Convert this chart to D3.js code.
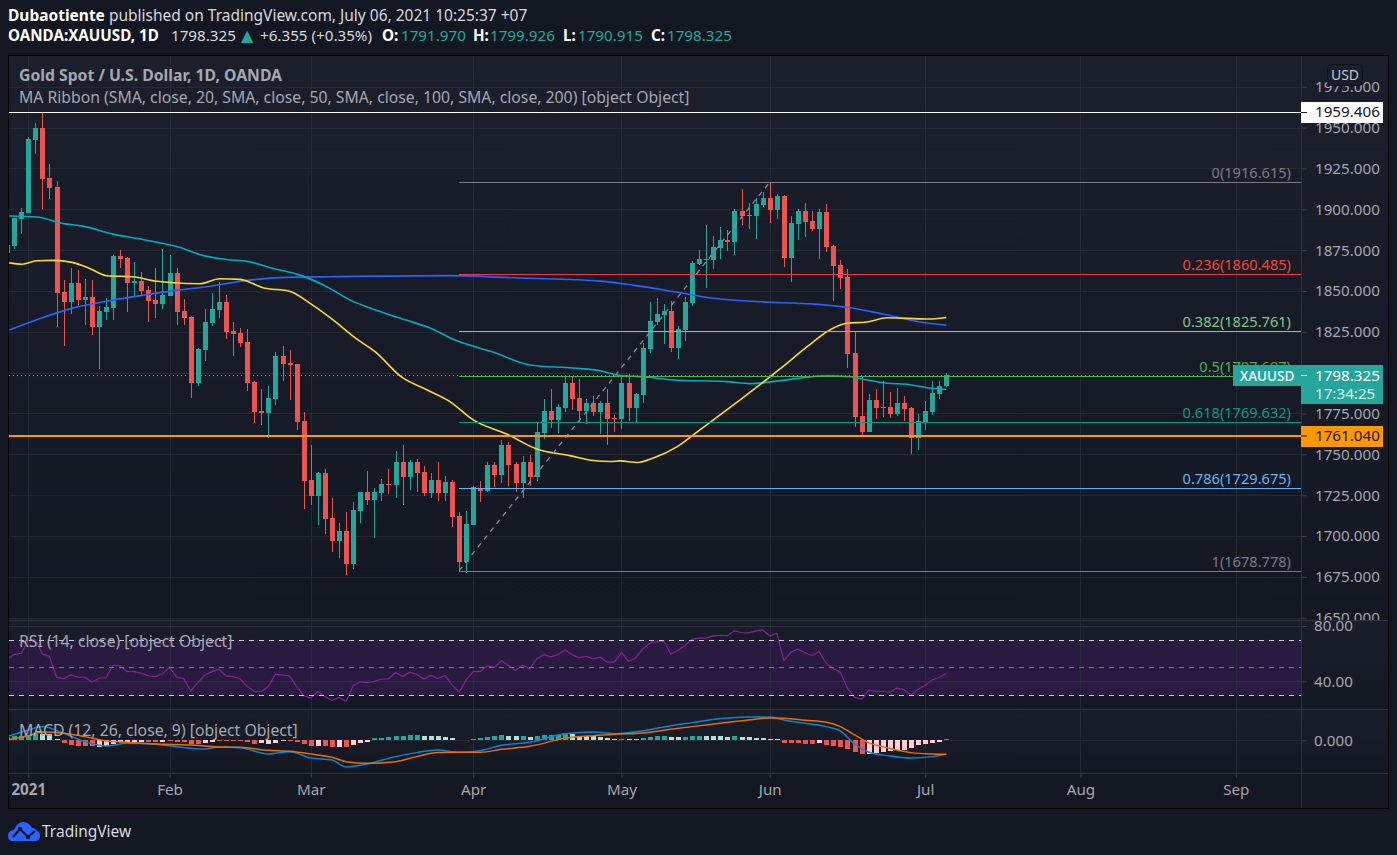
<!DOCTYPE html>
<html>
<head>
<meta charset="utf-8">
<script src="https://d3js.org/d3.v7.min.js"></script>
<style>
  html, body { margin: 0; padding: 0; background: #131722; overflow: hidden; }
  svg { display: block; }
  text { font-family: "Noto Sans", "Open Sans", sans-serif; }
</style>
</head>
<body>
<svg id="chart" width="1397" height="855"></svg>
<script>
// first candle is three sessions before the 2021 tick
const firstIndex = -3;

// daily gold candles, ten to a row
const opens = [
  1873.2, 1877.5, 1893.9, 1897.6, 1942.2, 1949.6, 1919.0, 1913.5, 1849.3, 1843.2,
  1854.8, 1844.4, 1846.3, 1827.9, 1837.1, 1839.5, 1871.3, 1870.1, 1854.8, 1856.1,
  1850.5, 1844.4, 1842.0, 1846.9, 1860.9, 1837.7, 1834.0, 1793.7, 1813.9, 1830.4,
  1838.3, 1843.2, 1825.5, 1824.3, 1818.8, 1794.3, 1776.6, 1775.3, 1783.9, 1810.2,
  1805.9, 1805.3, 1770.5, 1734.4, 1724.6, 1738.7, 1711.2, 1697.1, 1703.2, 1683.0,
  1715.4, 1727.1, 1722.2, 1726.5, 1732.0, 1731.3, 1745.4, 1736.2, 1745.4, 1739.3,
  1726.5, 1734.4, 1726.5, 1733.2, 1712.4, 1684.3, 1706.9, 1729.5, 1727.7, 1743.6,
  1737.4, 1755.8, 1744.2, 1732.6, 1745.4, 1736.2, 1763.1, 1776.6, 1771.1, 1778.4,
  1793.7, 1784.5, 1776.6, 1781.5, 1776.0, 1781.5, 1772.3, 1771.7, 1793.7, 1778.4,
  1786.4, 1814.5, 1831.0, 1835.3, 1837.7, 1815.1, 1826.1, 1842.6, 1866.4, 1868.9,
  1868.9, 1876.2, 1881.1, 1879.9, 1898.8, 1896.4, 1895.8, 1902.5, 1906.8, 1899.4,
  1908.0, 1870.1, 1890.9, 1898.8, 1892.7, 1887.8, 1898.2, 1877.5, 1865.8, 1858.5,
  1812.0, 1773.5, 1763.7, 1783.3, 1778.4, 1779.0, 1774.7, 1781.5, 1778.4, 1760.1,
  1769.8, 1776.0, 1787.0, 1791.97
];
const highs = [
  1878.1, 1894.6, 1900.7, 1944.1, 1952.6, 1958.7, 1927.6, 1917.2, 1856.7, 1864.0,
  1862.8, 1857.3, 1856.7, 1840.8, 1845.6, 1871.9, 1875.0, 1870.7, 1867.7, 1861.6,
  1853.0, 1864.0, 1875.6, 1871.9, 1864.0, 1845.0, 1834.6, 1815.1, 1838.9, 1848.7,
  1855.4, 1847.5, 1831.0, 1827.3, 1826.7, 1794.9, 1790.0, 1791.9, 1812.6, 1816.3,
  1813.9, 1805.3, 1776.0, 1755.8, 1739.3, 1741.1, 1723.4, 1708.1, 1714.8, 1720.9,
  1727.1, 1739.9, 1729.5, 1735.0, 1741.1, 1752.1, 1755.8, 1746.6, 1747.2, 1742.9,
  1738.7, 1745.4, 1736.8, 1734.4, 1714.8, 1715.4, 1730.7, 1733.8, 1745.4, 1745.4,
  1758.8, 1757.6, 1745.4, 1749.1, 1749.7, 1769.8, 1783.9, 1790.0, 1780.8, 1798.0,
  1798.0, 1796.1, 1783.9, 1785.7, 1782.7, 1790.0, 1774.1, 1798.6, 1799.2, 1787.6,
  1818.1, 1843.2, 1845.6, 1842.0, 1843.8, 1828.5, 1846.3, 1868.3, 1875.0, 1890.3,
  1883.5, 1889.0, 1887.2, 1900.0, 1912.3, 1903.7, 1906.8, 1910.5, 1916.0, 1909.2,
  1908.6, 1895.8, 1900.0, 1903.7, 1898.8, 1900.0, 1903.1, 1878.1, 1868.9, 1863.4,
  1824.9, 1797.4, 1787.0, 1790.0, 1794.9, 1788.2, 1790.6, 1785.7, 1779.0, 1774.7,
  1782.7, 1794.9, 1794.9, 1799.926
];
const lows = [
  1873.2, 1875.6, 1884.8, 1897.6, 1933.7, 1900.0, 1906.2, 1827.9, 1816.3, 1835.9,
  1841.4, 1829.1, 1823.0, 1802.2, 1832.2, 1832.2, 1864.0, 1837.1, 1846.9, 1847.5,
  1831.0, 1833.4, 1838.9, 1846.9, 1829.1, 1829.1, 1784.5, 1791.9, 1807.1, 1828.5,
  1833.4, 1820.6, 1810.2, 1815.7, 1788.8, 1769.2, 1768.0, 1760.1, 1780.2, 1794.9,
  1783.3, 1765.0, 1716.7, 1719.1, 1706.9, 1701.4, 1690.4, 1686.7, 1676.3, 1680.0,
  1708.1, 1719.1, 1698.9, 1721.6, 1725.8, 1723.4, 1719.1, 1728.3, 1727.1, 1724.6,
  1723.4, 1721.6, 1721.6, 1705.7, 1678.8, 1677.5, 1706.9, 1720.9, 1727.1, 1730.1,
  1732.6, 1730.7, 1727.1, 1723.4, 1730.7, 1733.8, 1759.5, 1766.2, 1763.1, 1776.0,
  1777.2, 1769.8, 1768.6, 1773.5, 1762.5, 1755.8, 1763.7, 1765.6, 1770.5, 1769.8,
  1781.5, 1812.0, 1829.1, 1817.5, 1812.6, 1808.4, 1819.4, 1840.8, 1866.0, 1851.8,
  1863.4, 1869.5, 1874.4, 1871.9, 1890.3, 1887.8, 1881.7, 1901.3, 1891.5, 1893.9,
  1864.6, 1855.4, 1881.1, 1882.9, 1886.6, 1869.5, 1873.8, 1843.8, 1851.2, 1802.9,
  1766.8, 1761.9, 1763.7, 1771.7, 1772.9, 1772.3, 1773.5, 1770.5, 1750.3, 1752.7,
  1765.0, 1774.1, 1783.9, 1790.915
];
const closes = [
  1878.1, 1894.6, 1898.2, 1942.8, 1949.6, 1918.4, 1912.9, 1848.7, 1843.2, 1854.8,
  1844.4, 1846.3, 1827.9, 1837.7, 1840.2, 1871.3, 1869.5, 1854.8, 1856.1, 1849.9,
  1843.8, 1842.0, 1847.5, 1860.9, 1837.1, 1833.4, 1793.7, 1814.5, 1831.0, 1838.9,
  1843.2, 1824.9, 1823.6, 1818.1, 1793.7, 1775.9, 1775.3, 1784.5, 1810.2, 1805.3,
  1804.7, 1769.8, 1733.8, 1724.6, 1738.7, 1710.6, 1697.1, 1703.2, 1683.0, 1716.1,
  1727.1, 1722.2, 1727.1, 1732.0, 1731.3, 1745.4, 1736.2, 1745.4, 1738.7, 1726.5,
  1734.4, 1726.5, 1733.2, 1711.8, 1684.3, 1707.5, 1730.1, 1727.7, 1743.6, 1737.4,
  1755.8, 1743.6, 1732.6, 1745.4, 1736.2, 1763.7, 1776.6, 1771.1, 1779.0, 1793.7,
  1783.9, 1776.6, 1781.5, 1776.0, 1781.5, 1771.7, 1771.7, 1793.7, 1778.4, 1787.0,
  1815.1, 1831.6, 1835.9, 1837.7, 1815.1, 1826.7, 1843.2, 1867.0, 1869.5, 1869.5,
  1876.8, 1881.1, 1879.9, 1898.8, 1895.8, 1895.8, 1903.1, 1906.8, 1899.4, 1908.0,
  1870.1, 1891.5, 1898.8, 1892.1, 1887.8, 1898.2, 1876.8, 1865.2, 1857.9, 1811.4,
  1772.9, 1763.7, 1783.3, 1778.4, 1779.0, 1774.7, 1781.5, 1777.8, 1760.1, 1770.5,
  1776.6, 1787.6, 1791.9, 1798.325
];

// moving averages read at the turning points of each curve
const cyanAt = [-2.7, 1.2, 4.9, 7.7, 12, 16.2, 21.5, 24.7, 28.1, 31, 34.7, 38.5, 42.7, 45.6, 48.4, 52.6, 56.9, 60.4, 61.6, 65.8, 71, 77.1, 81, 83.4, 88, 91.3, 98.9, 102.2, 106.5, 110.3, 113.1, 116.4, 118.2, 121.6, 124.4, 127.3, 130];
const cyanMa = [1895.9, 1895.3, 1891.3, 1889.7, 1884.8, 1881.5, 1876.6, 1871.8, 1869.3, 1868.1, 1863.8, 1859.7, 1851.6, 1844.4, 1839.5, 1833.4, 1827.3, 1820.0, 1818.1, 1812.6, 1804.7, 1802.8, 1801.2, 1798.6, 1797.2, 1795.5, 1794.5, 1793.3, 1795.1, 1797.2, 1798.0, 1797.5, 1796.0, 1793.5, 1792.9, 1790.8, 1789.8];
const yellowAt = [-2.7, -0.9, 1.2, 3.5, 6.2, 8.7, 11.1, 14.8, 18.2, 20.5, 24.3, 27.1, 30, 33.2, 37.1, 39.9, 42.7, 46.7, 49.1, 52.9, 56.5, 59.7, 63, 67.8, 72, 76.7, 80, 82.4, 83.8, 86.3, 88.5, 91.9, 95.1, 100.8, 106.4, 110.3, 113.5, 115.9, 118.8, 121.6, 127.3, 130];
const yellowMa = [1867.2, 1866.4, 1868.5, 1868.7, 1867.5, 1863.8, 1859.3, 1858.7, 1855.9, 1855.0, 1854.4, 1857.5, 1857.1, 1852.0, 1849.7, 1842.4, 1833.8, 1820.0, 1812.8, 1797.2, 1789.4, 1782.3, 1771.1, 1762.3, 1753.3, 1749.2, 1746.2, 1745.6, 1746.0, 1745.0, 1747.7, 1754.7, 1765.0, 1783.3, 1802.1, 1815.9, 1826.1, 1830.2, 1831.0, 1833.6, 1832.8, 1833.8];
const blueAt = [-2.7, 1.7, 6.3, 12, 16.8, 21.1, 25.3, 31, 36.6, 42.7, 59.7, 69.6, 81, 85.6, 92.3, 97, 103.6, 111.1, 115.9, 121, 126.3, 130];
const blueMa = [1826.1, 1833.2, 1839.5, 1844.4, 1847.7, 1850.5, 1852.6, 1856.5, 1858.3, 1858.7, 1859.4, 1857.9, 1856.0, 1853.6, 1848.9, 1845.5, 1843.4, 1842.0, 1840.0, 1835.9, 1831.0, 1829.1];

// fibonacci retracement from the March low to the June high
const fibLevels = ["0", "0.236", "0.382", "0.5", "0.618", "0.786", "1"];
const fibPrices = [1916.615, 1860.485, 1825.761, 1797.697, 1769.632, 1729.675, 1678.778];
const fibColors = ["#787b86", "#f23645", "#81c784", "#4caf50", "#089981", "#64b5f6", "#787b86"];
const fibFrom = 61, fibTo = 105;

const whiteLevel = 1959.406;
const orangeLevel = 1761.04;
const lastPrice = 1798.325;

const rsiValues = [
  56, 59.3, 60.3, 69.5, 70, 59.8, 57.9, 43, 41.8, 44.6,
  43, 43, 39.3, 42.2, 42.7, 51.6, 51.2, 47, 47, 45.8,
  43.9, 43.4, 45.4, 50.2, 43, 42, 33.1, 39.1, 44.6, 47,
  48.7, 43.9, 43.4, 42, 36.2, 32.8, 32.6, 36.2, 45.1, 44.4,
  43.9, 36.2, 29.5, 27.8, 32.6, 29, 26.3, 28.3, 25.6, 36.7,
  39.6, 39.1, 40, 41.5, 41.7, 46.3, 43.4, 46.6, 45.1, 41.5,
  44.2, 42, 44.2, 37.4, 32.3, 41, 47, 47, 51.4, 50,
  54.8, 51.4, 48, 51.6, 49, 56.4, 59.3, 57.7, 59.3, 62.7,
  59.3, 56.9, 58.1, 56.2, 57.4, 53.8, 53.8, 60.8, 54.5, 56.9,
  63.4, 67.5, 68.5, 69, 59.6, 62.5, 65.9, 70.4, 71.2, 71.2,
  72.8, 73.3, 73.1, 76.5, 75.3, 75, 76.5, 77.2, 72.8, 74.8,
  55, 61, 63.2, 60.6, 58.6, 61.5, 53.1, 49.2, 46.6, 35,
  28.5, 27, 33.6, 32.8, 32.8, 32.1, 35, 34, 30.2, 34.3,
  37.2, 41, 42.7, 45.6
];

const macdAt = [-3, 0, 2, 5, 8, 11, 14, 18, 23, 25, 27, 30, 34, 37, 40, 43, 45, 48, 52, 55, 58, 61, 64, 67, 71, 76, 80, 83, 87, 91, 94, 98, 102, 105, 107, 110, 113, 115, 117, 119, 122, 125, 128, 130];
const macdLine = [4.6, 12.9, 17.1, 8.8, -1.7, -7.1, -3.8, -5, -10, -10.8, -8.3, -9.2, -17.1, -14.2, -22.1, -24.6, -33.3, -29.6, -20.4, -15.4, -12.1, -15, -12.9, -6.3, -2.5, 8.3, 10.4, 8.3, 11.7, 18.3, 22.1, 27.1, 29.2, 29.2, 25.4, 21.3, 17.1, 11.7, -4.6, -14.6, -19.6, -22.1, -20.4, -17.1];
const macdSignal = [0.4, 5.8, 10.4, 8.8, 4.6, -0.8, -2.5, -4.6, -5.8, -7.1, -8.3, -8.8, -12.5, -13.8, -17.1, -21.3, -26.7, -28.8, -26.7, -20.4, -15.4, -15, -15, -11.3, -7.5, 2.5, 5.8, 7.5, 9.2, 13.8, 17.1, 21.3, 25.4, 27.9, 27.5, 25, 22.5, 17.1, 6.7, -2.9, -10, -15.4, -17.1, -17.5];
const macdHist = [
  4.2, 5, 5, 5.8, 7.5, 8.3, 7.5, 1.7, -3.8, -6.3,
  -7.1, -7.1, -7.5, -8.3, -7.5, -4.2, -1.7, -1.7, -1.7, -1.7,
  -2.5, -2.5, -1.7, -1.3, -2.1, -2.5, -4.2, -5, -3.3, -2.1,
  -0.4, -0.8, -0.8, -0.8, -2.5, -4.2, -3.3, -5, -3.3, -1.3,
  -0.8, -2.5, -4.6, -6.7, -7.5, -7.5, -7.9, -7.9, -7.9, -5.8,
  -3.8, -1.7, 2.5, 2.5, 4.2, 5.4, 5.4, 6.7, 7.1, 5.8,
  5.8, 5.4, 4.2, 2.5, 0.8, 0.8, 1.7, 2.9, 4.2, 5,
  6.7, 5.8, 5.8, 5.4, 4.2, 5.4, 6.7, 6.3, 6.3, 7.5,
  7.5, 5.4, 5.4, 5, 4.2, 2.9, 1.7, 1.3, 1.3, 1.3,
  2.5, 3.8, 5, 5, 3.8, 3.8, 3.8, 5, 5, 5,
  5, 5, 3.8, 5, 3.8, 3.8, 2.5, 2.5, 1.7, 1.7,
  -3.3, -3.3, -3.3, -4.2, -4.2, -3.8, -5.8, -6.7, -8.3, -10.8,
  -14.2, -16.7, -16.7, -15.8, -15, -13.3, -12.5, -11.7, -9.2, -6.3,
  -5, -3.3, -1.7, 1.7
];
// 1 = strong colour, 0 = pale colour
const histTone = "1111100011" + "1110000000" + "1101111100" + "1111110000" + "1111011010" +
  "0011111110" + "0000001111" + "1001011111" + "0000000100" + "1111001110" +
  "0001000000" + "1111101111" + "1100000000" + "0001";

const priceTicks = d3.range(1650, 1976, 25);
const rsiTicks = [80, 40];
const macdTicks = [0];
const timeTicks = [0, 20, 40, 63, 84, 105, 127, 149, 171];
const timeLabels = ["2021", "Feb", "Mar", "Apr", "May", "Jun", "Jul", "Aug", "Sep"];

const left = 9, axisX = 1301, frameRight = 1388;
const mainTop = 56, rsiTop = 620, macdTop = 709, timeTop = 773, frameBottom = 808;

const x = d3.scaleLinear().domain([0, 130]).range([28.3, 946.3]);
const y = d3.scaleLinear().domain([1650, 1950]).range([617.7, 127.6]);
const yRsi = d3.scaleLinear().domain([40, 80]).range([681.3, 626]);
const yMacd = d3.scaleLinear().domain([-40, 40]).range([772.3, 708.3]);

const up = "#26a69a", down = "#ef5350", gridColor = "#252934", axisText = "#a3a6af";
const candleIndex = opens.map((d, i) => i + firstIndex);

const svg = d3.select("#chart");
const defs = svg.append("defs");

function paneGradient(id, top, bottom) {
  const g = defs.append("linearGradient").attr("id", id).attr("x1", 0).attr("x2", 0).attr("y1", 0).attr("y2", 1);
  g.append("stop").attr("offset", "0%").attr("stop-color", top);
  g.append("stop").attr("offset", "100%").attr("stop-color", bottom);
}
paneGradient("mainBg", "#1b1f2c", "#131722");
paneGradient("rsiBg", "#191d29", "#141823");
paneGradient("macdBg", "#191d29", "#141823");

defs.append("clipPath").attr("id", "plot").append("rect")
  .attr("x", left).attr("y", mainTop).attr("width", axisX - left).attr("height", timeTop - mainTop);

// pane backgrounds
svg.append("rect").attr("x", left).attr("y", mainTop).attr("width", frameRight - left).attr("height", rsiTop - mainTop).attr("fill", "url(#mainBg)");

// main price axis goes first so the RSI pane covers the cut off 1650 label
const gridH = svg.append("g");
gridH.selectAll("line").data(priceTicks).join("line")
  .attr("x1", left).attr("x2", axisX)
  .attr("y1", d => Math.round(y(d)) + 0.5).attr("y2", d => Math.round(y(d)) + 0.5)
  .attr("stroke", gridColor);

function styleAxis(g, fontSize) {
  g.select(".domain").remove();
  g.selectAll(".tick line").attr("stroke", "#3a3e4a");
  g.selectAll(".tick text").attr("fill", axisText).attr("font-size", fontSize);
}
const priceAxis = svg.append("g").attr("transform", `translate(${axisX},0)`)
  .call(d3.axisRight(y).tickValues(priceTicks).tickFormat(d3.format(".3f")).tickSize(6).tickPadding(8))
  .call(g => styleAxis(g, 15.2));
priceAxis.selectAll(".tick text").attr("font-family", "Noto Sans");

svg.append("rect").attr("x", left).attr("y", rsiTop).attr("width", frameRight - left).attr("height", macdTop - rsiTop).attr("fill", "url(#rsiBg)");
svg.append("rect").attr("x", left).attr("y", macdTop).attr("width", frameRight - left).attr("height", timeTop - macdTop).attr("fill", "url(#macdBg)");

// RSI band under its grid
svg.append("rect").attr("x", left).attr("width", axisX - left)
  .attr("y", yRsi(70)).attr("height", yRsi(30) - yRsi(70)).attr("fill", "#281b3f");

svg.append("g").selectAll("line").data(rsiTicks).join("line")
  .attr("x1", left).attr("x2", axisX)
  .attr("y1", d => Math.round(yRsi(d)) + 0.5).attr("y2", d => Math.round(yRsi(d)) + 0.5)
  .attr("stroke", "#2c2f3b");
svg.append("g").selectAll("line").data(macdTicks).join("line")
  .attr("x1", left).attr("x2", axisX)
  .attr("y1", d => Math.round(yMacd(d)) + 0.5).attr("y2", d => Math.round(yMacd(d)) + 0.5)
  .attr("stroke", gridColor);

// vertical grid over all three panes
svg.append("g").selectAll("line").data(timeTicks).join("line")
  .attr("x1", d => Math.round(x(d)) + 0.5).attr("x2", d => Math.round(x(d)) + 0.5)
  .attr("y1", mainTop).attr("y2", timeTop)
  .attr("stroke", "#2b2d39").attr("stroke-opacity", 0.8);

const plot = svg.append("g").attr("clip-path", "url(#plot)");

// white and orange key levels sit below the candles' top layer
function hLine(price, color, width, dash) {
  const yy = Math.round(y(price)) + (width % 2 ? 0.5 : 0);
  return plot.append("line").attr("x1", left).attr("x2", axisX).attr("y1", yy).attr("y2", yy)
    .attr("stroke", color).attr("stroke-width", width).attr("stroke-dasharray", dash || null);
}
hLine(lastPrice, up, 1, "1 3");

// candles
const candles = plot.append("g").attr("shape-rendering", "crispEdges");
candles.selectAll(".wick").data(candleIndex).join("line").attr("class", "wick")
  .attr("x1", i => Math.round(x(i)) + 0.5).attr("x2", i => Math.round(x(i)) + 0.5)
  .attr("y1", i => y(highs[i - firstIndex])).attr("y2", i => y(lows[i - firstIndex]))
  .attr("stroke", i => closes[i - firstIndex] >= opens[i - firstIndex] ? up : down);
candles.selectAll(".body").data(candleIndex).join("rect").attr("class", "body")
  .attr("x", i => Math.round(x(i)) - 2).attr("width", 5)
  .attr("y", i => y(Math.max(opens[i - firstIndex], closes[i - firstIndex])))
  .attr("height", i => Math.max(1, Math.abs(y(opens[i - firstIndex]) - y(closes[i - firstIndex]))))
  .attr("fill", i => closes[i - firstIndex] >= opens[i - firstIndex] ? up : down);

// moving averages
const maLine = d3.line().x(d => x(d[0])).y(d => y(d[1])).curve(d3.curveMonotoneX);
[[blueAt, blueMa, "#2962ff"], [cyanAt, cyanMa, "#00acc1"], [yellowAt, yellowMa, "#fdd835"]].forEach(([at, vals, color]) => {
  plot.append("path").attr("d", maLine(at.map((a, k) => [a, vals[k]])))
    .attr("fill", "none").attr("stroke", color).attr("stroke-width", 1.6);
});

// fib lines and the dashed trend between the swing points
plot.selectAll(".fib").data(fibPrices).join("line").attr("class", "fib")
  .attr("x1", x(fibFrom)).attr("x2", axisX)
  .attr("y1", d => Math.round(y(d)) + 0.5).attr("y2", d => Math.round(y(d)) + 0.5)
  .attr("stroke", (d, i) => fibColors[i]);
plot.append("line")
  .attr("x1", x(fibFrom)).attr("y1", y(fibPrices[6]))
  .attr("x2", x(fibTo)).attr("y2", y(fibPrices[0]))
  .attr("stroke", "#868993").attr("stroke-width", 1.3).attr("stroke-dasharray", "5 5");
plot.selectAll(".fibText").data(fibPrices).join("text").attr("class", "fibText")
  .attr("x", 1291).attr("y", d => Math.round(y(d)) - 4)
  .attr("text-anchor", "end").attr("font-size", 14.6)
  .attr("fill", (d, i) => fibColors[i] === "#f23645" ? "#f44336" : fibColors[i])
  .text((d, i) => `${fibLevels[i]}(${d.toFixed(3)})`);

hLine(whiteLevel, "#ffffff", 1);
hLine(orangeLevel, "#ff9800", 2);

// RSI
svg.append("g").selectAll("line").data([70, 50, 30]).join("line")
  .attr("x1", left).attr("x2", axisX)
  .attr("y1", d => Math.round(yRsi(d)) + 0.5).attr("y2", d => Math.round(yRsi(d)) + 0.5)
  .attr("stroke", d => d === 50 ? "#7c7489" : "#cfc9d6")
  .attr("stroke-dasharray", "5 5");
plot.append("path")
  .attr("d", d3.line().x((d, i) => x(i + firstIndex)).y(d => yRsi(d))(rsiValues))
  .attr("fill", "none").attr("stroke", "#8a1f9c").attr("stroke-width", 1.2);

// MACD
plot.append("g").attr("shape-rendering", "crispEdges").selectAll("rect").data(macdHist).join("rect")
  .attr("x", (d, i) => Math.round(x(i + firstIndex)) - 2).attr("width", 5)
  .attr("y", d => d >= 0 ? yMacd(d) : yMacd(0))
  .attr("height", d => Math.abs(yMacd(d) - yMacd(0)))
  .attr("fill", (d, i) => {
    const strong = histTone[i] === "1";
    if (d >= 0) return strong ? up : "#b2dfdb";
    return strong ? down : "#ffcdd2";
  });
const macdPath = d3.line().x(d => x(d[0])).y(d => yMacd(d[1])).curve(d3.curveMonotoneX);
plot.append("path").attr("d", macdPath(macdAt.map((a, k) => [a, macdLine[k]])))
  .attr("fill", "none").attr("stroke", "#0a84d8").attr("stroke-width", 1.5);
plot.append("path").attr("d", macdPath(macdAt.map((a, k) => [a, macdSignal[k]])))
  .attr("fill", "none").attr("stroke", "#ef6c00").attr("stroke-width", 1.5);

// lower axes
svg.append("g").attr("transform", `translate(${axisX},0)`)
  .call(d3.axisRight(yRsi).tickValues(rsiTicks).tickFormat(d3.format(".2f")).tickSize(6).tickPadding(7))
  .call(g => styleAxis(g, 15.2));
svg.append("g").attr("transform", `translate(${axisX},0)`)
  .call(d3.axisRight(yMacd).tickValues(macdTicks).tickFormat(d3.format(".3f")).tickSize(6).tickPadding(7))
  .call(g => styleAxis(g, 15.2));
const timeAxis = svg.append("g").attr("transform", `translate(0,${timeTop})`)
  .call(d3.axisBottom(x).tickValues(timeTicks).tickFormat((d, i) => timeLabels[i]).tickSize(5).tickPadding(6))
  .call(g => styleAxis(g, 15.2));
timeAxis.selectAll(".tick text").filter((d, i) => i === 0).attr("font-weight", 700);

// pane separators and frame
[rsiTop, macdTop, timeTop].forEach(yy => {
  svg.append("line").attr("x1", left).attr("x2", frameRight).attr("y1", yy + 0.5).attr("y2", yy + 0.5).attr("stroke", "#2f333f");
});
svg.append("line").attr("x1", axisX + 0.5).attr("x2", axisX + 0.5).attr("y1", mainTop).attr("y2", frameBottom).attr("stroke", "#2f333f");
svg.append("rect").attr("x", 8.5).attr("y", 55.5).attr("width", frameRight - 8).attr("height", frameBottom - 55)
  .attr("fill", "none").attr("stroke", "#000");

// price tags
function tag(yTop, h, xFrom, fill) {
  svg.append("rect").attr("x", xFrom).attr("y", yTop).attr("width", 1383 - xFrom).attr("height", h).attr("fill", fill);
}
tag(102, 21, 1301, "#ffffff");
svg.append("text").attr("x", 1315).attr("y", y(whiteLevel) + 5).attr("font-size", 15.2).attr("fill", "#131722").text(whiteLevel.toFixed(3));
svg.append("line").attr("x1", 1301).attr("x2", 1307).attr("y1", Math.round(y(whiteLevel)) + 0.5).attr("y2", Math.round(y(whiteLevel)) + 0.5).attr("stroke", "#131722");
tag(426, 21, 1301, "#ff9800");
svg.append("text").attr("x", 1315).attr("y", y(orangeLevel) + 5).attr("font-size", 15.2).attr("fill", "#131722").text(orangeLevel.toFixed(3));
svg.append("line").attr("x1", 1301).attr("x2", 1307).attr("y1", Math.round(y(orangeLevel))).attr("y2", Math.round(y(orangeLevel))).attr("stroke", "#131722");
tag(365, 21, 1233, up);
tag(386, 18, 1301, up);
svg.append("text").attr("x", 1240).attr("y", 381).attr("font-size", 13.5).attr("font-weight", 500).attr("fill", "#ffffff").text("XAUUSD");
svg.append("text").attr("x", 1315).attr("y", 381).attr("font-size", 15.2).attr("fill", "#ffffff").text(lastPrice.toFixed(3));
svg.append("text").attr("x", 1315).attr("y", 399).attr("font-size", 15.2).attr("fill", "#d5efec").text("17:34:25");
svg.append("line").attr("x1", 1301).attr("x2", 1307).attr("y1", 375.5).attr("y2", 375.5).attr("stroke", "#ffffff");

// USD button
svg.append("rect").attr("x", 1327.5).attr("y", 64.5).attr("width", 35).attr("height", 21).attr("rx", 4)
  .attr("fill", "#1a1e2a").attr("stroke", "#0f121a");
svg.append("text").attr("x", 1345).attr("y", 80).attr("text-anchor", "middle").attr("font-size", 14).attr("fill", "#c2c5cc").text("USD");

// titles
const titleSize = 15.75;
svg.append("text").attr("x", 19).attr("y", 81).attr("font-size", titleSize).attr("font-weight", 700).attr("fill", "#a5a8b0").text("Gold Spot / U.S. Dollar, 1D, OANDA");
svg.append("text").attr("x", 19).attr("y", 103).attr("font-size", titleSize).attr("fill", "#a5a8b0").text("MA Ribbon (SMA, close, 20, SMA, close, 50, SMA, close, 100, SMA, close, 200) [object Object]");
svg.append("text").attr("x", 19).attr("y", 647).attr("font-size", titleSize).attr("fill", "#a5a8b0").text("RSI (14, close) [object Object]");
svg.append("text").attr("x", 19).attr("y", 736).attr("font-size", titleSize).attr("fill", "#a5a8b0").text("MACD (12, 26, close, 9) [object Object]");

// header rows
const head1 = svg.append("text").attr("x", 8).attr("y", 21).attr("font-size", 15.5).attr("fill", "#ffffff");
head1.append("tspan").attr("font-weight", 700).text("Dubaotiente");
head1.append("tspan").attr("fill", "#d8d9de").text(" published on TradingView.com, July 06, 2021 10:25:37 +07");

const head2 = svg.append("text").attr("y", 41).attr("font-size", 15.2).attr("fill", "#ffffff");
[
  ["OANDA:XAUUSD, 1D", 700, "#ffffff", 8], ["1798.325", 400, "#d8d9de", 171], ["▲", 400, up, 241],
  ["+6.355 (+0.35%)", 400, "#d8d9de", 260],
  ["O:", 700, "#ffffff", 382], ["1791.970", 400, up, 401], ["H:", 700, "#ffffff", 473], ["1799.926", 400, up, 490],
  ["L:", 700, "#ffffff", 563], ["1790.915", 400, up, 578], ["C:", 700, "#ffffff", 651], ["1798.325", 400, up, 667]
].forEach(([t, w, c, tx]) => {
  const span = head2.append("tspan").attr("x", tx).attr("font-weight", w).attr("fill", c).text(t);
  if (t === "▲") span.attr("font-family", "DejaVu Sans").attr("font-size", 16);
});

// logo
const logo = svg.append("g").attr("transform", "translate(8,822)");
logo.append("path")
  .attr("d", "M0 14 C0 10 3 8 6 8 C8 3 11 0 15 0 C19 0 22 2 24 6 C25 6 27 6 28 8 C31 9 32 11 32 14 C32 17 30 19 27 19 L5 19 C2 19 0 17 0 14 Z")
  .attr("fill", "#2962ff");
logo.append("path").attr("d", "M5 15 L12 7 L20 15 L27 9").attr("fill", "none").attr("stroke", "#131722").attr("stroke-width", 2);
logo.selectAll("circle").data([[12, 7], [20, 15]]).join("circle")
  .attr("cx", d => d[0]).attr("cy", d => d[1]).attr("r", 2.2).attr("fill", "#131722");
svg.append("text").attr("x", 42).attr("y", 837).attr("font-size", 15.5).attr("fill", "#d8d9de").text("TradingView");
</script>
</body>
</html>
